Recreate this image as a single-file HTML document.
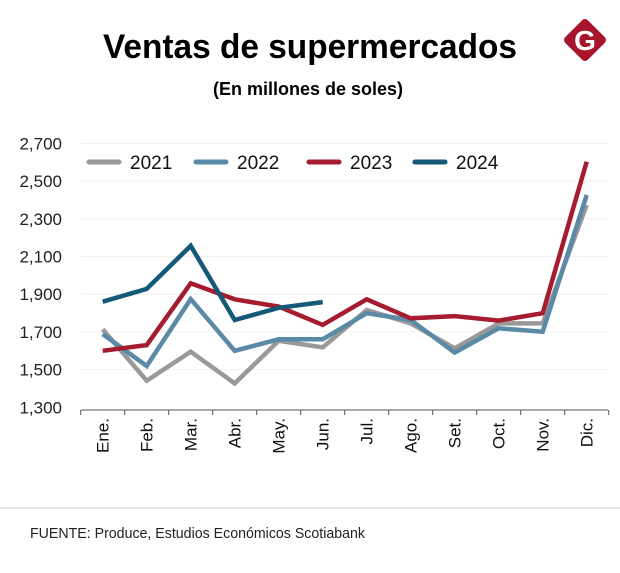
<!DOCTYPE html>
<html><head><meta charset="utf-8"><style>
body{margin:0;background:#fff;}
svg{display:block;font-family:"Liberation Sans",sans-serif;}
</style></head><body>
<svg id="chart" width="620" height="573" viewBox="0 0 620 573">
<text x="310" y="58" text-anchor="middle" font-size="34" font-weight="bold" textLength="414" lengthAdjust="spacingAndGlyphs">Ventas de supermercados</text>
<text x="308" y="95" text-anchor="middle" font-size="18" font-weight="bold">(En millones de soles)</text>
<g>
<rect x="569" y="24" width="32" height="32" rx="4" fill="#a8142c" transform="rotate(45 585 40)"/>
<text x="585" y="50" text-anchor="middle" font-size="28" font-weight="bold" fill="#fff">G</text>
</g>
<g id="grid"></g>
<g id="yaxis"></g>
<g id="xaxis"></g>
<g id="series"></g>
<g id="legend"></g>
<line x1="0" y1="508" x2="620" y2="508" stroke="#ccc" stroke-width="1"/>
<text x="30" y="538" font-size="15" fill="#222" textLength="335" lengthAdjust="spacingAndGlyphs">FUENTE: Produce, Estudios Económicos Scotiabank</text>
</svg>
<script>
const categories=["Ene.","Feb.","Mar.","Abr.","May.","Jun.","Jul.","Ago.","Set.","Oct.","Nov.","Dic."];
const yTicks=[1300,1500,1700,1900,2100,2300,2500,2700];
const yTickLabels=["1,300","1,500","1,700","1,900","2,100","2,300","2,500","2,700"];
const s2021=[1714,1441,1595,1427,1653,1618,1816,1745,1613,1745,1745,2373];
const s2022=[1689,1519,1874,1600,1661,1661,1799,1763,1590,1719,1701,2426];
const s2023=[1600,1630,1958,1873,1834,1737,1873,1772,1784,1760,1799,2603];
const s2024=[1860,1928,2157,1763,1828,1858];
const seriesNames=["2021","2022","2023","2024"];
const seriesColors=["#999999","#5b8aa6","#a51c30","#145a78"];
const NS="http://www.w3.org/2000/svg";
function x(i){return 102.7+44*i;}
function y(v){return 407.3-(v-1300)/200*37.7;}
function mk(tag,attrs,parent){const e=document.createElementNS(NS,tag);for(const k in attrs)e.setAttribute(k,attrs[k]);parent.appendChild(e);return e;}
const grid=document.getElementById('grid'),ya=document.getElementById('yaxis'),xa=document.getElementById('xaxis'),sg=document.getElementById('series'),lg=document.getElementById('legend');
yTicks.forEach((t,i)=>{
 if(i>0){const g=mk('line',{x1:81,x2:608,y1:y(t),y2:y(t),stroke:'#f0f0f0','stroke-width':1},grid);
 
 }
 const l=mk('text',{x:62,y:y(t)+6,'text-anchor':'end','font-size':17,fill:'#222'},ya);
 l.textContent=yTickLabels[i];
 
 
});
const ax=mk('path',{d:'M81,410H608',stroke:'#555','stroke-width':1,fill:'none'},xa);


for(let k=0;k<=categories.length;k++){const tk=mk('line',{x1:x(k)-22,x2:x(k)-22,y1:410,y2:415,stroke:'#555'},xa);
 
 }
categories.forEach((c,i)=>{
 const t=mk('text',{x:0,y:0,'text-anchor':'end','font-size':17,fill:'#111',transform:`translate(${x(i)+6},418) rotate(-90)`},xa);
 t.textContent=c;
 
 
});
[s2021,s2022,s2023,s2024].forEach((s,j)=>{
 const d=s.map((v,i)=>(i?'L':'M')+x(i).toFixed(1)+','+y(v).toFixed(1)).join('');
 const p=mk('path',{d:d,fill:'none',stroke:seriesColors[j],'stroke-width':4.5,'stroke-linejoin':'miter'},sg);
 
 
});
const lx=[89,196,309,415];
seriesNames.forEach((n,j)=>{
 const g=mk('g',{},lg);
 
 
 mk('line',{x1:lx[j],x2:lx[j]+30,y1:162,y2:162,stroke:seriesColors[j],'stroke-width':5,'stroke-linecap':'round'},g);
 const t=mk('text',{x:lx[j]+41,y:169,'font-size':19,fill:'#111'},g);
 t.textContent=n;
});
</script>
</body></html>
